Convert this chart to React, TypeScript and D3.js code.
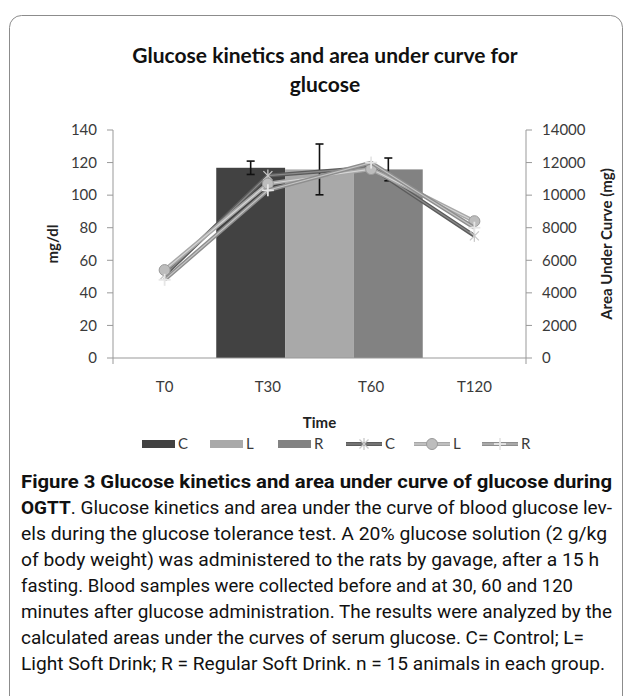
import React from "react";
import * as d3 from "d3";

// chart data
const timePoints = ["T0", "T30", "T60", "T120"];
const groups = ["C", "L", "R"];
const aucValues = [11680, 11580, 11580];
const aucErrors = [410, 1560, 700];
const glucoseC = [51, 112, 117, 75];
const glucoseL = [54, 107, 116, 84];
const glucoseR = [48, 103, 120, 80];
const leftTicks = [0, 20, 40, 60, 80, 100, 120, 140];
const rightTicks = [0, 2000, 4000, 6000, 8000, 10000, 12000, 14000];

const titleLines = ["Glucose kinetics and area under curve for", "glucose"];
const captionLines = [
  "els during the glucose tolerance test. A 20% glucose solution (2 g/kg",
  "of body weight) was administered to the rats by gavage, after a 15 h",
  "fasting. Blood samples were collected before and at 30, 60 and 120",
  "minutes after glucose administration. The results were analyzed by the",
  "calculated areas under the curves of serum glucose. C= Control; L=",
  "Light Soft Drink; R = Regular Soft Drink. n = 15 animals in each group.",
];
const captionWidths = [586, 578, 552, 591, 563, 584];

const barColors = ["#424242", "#a9a9a9", "#828282"];
const lineColors = ["#5c5c5c", "#a8a8a8", "#8e8e8e"];
const lineInner = ["#8a8a8a", "#d6d6d6", "#c4c4c4"];

const W = 628;
const H = 696;
const left = 113;
const right = 526;
const top = 130;
const bottom = 358;
const chartFont = "Lato, 'Open Sans', sans-serif";
const capFont = "'Liberation Sans Narrow', Roboto, sans-serif";

function Marker({ kind, x, y }: { kind: string; x: number; y: number }) {
  if (kind === "C") {
    const s = 6;
    const d = s * 0.75;
    return (
      <g stroke="#c8c8c8" strokeWidth={1.3}>
        <line x1={x} y1={y - s} x2={x} y2={y + s} />
        <line x1={x - d} y1={y - d} x2={x + d} y2={y + d} />
        <line x1={x - d} y1={y + d} x2={x + d} y2={y - d} />
      </g>
    );
  }
  if (kind === "L") {
    return <circle cx={x} cy={y} r={5.5} fill="#bdbdbd" stroke="#9a9a9a" strokeWidth={1} />;
  }
  const s = 6;
  return (
    <g stroke="#e6e6e6" strokeWidth={1.8}>
      <line x1={x} y1={y - s} x2={x} y2={y + s} />
      <line x1={x - s} y1={y} x2={x + s} y2={y} />
    </g>
  );
}

export default function App() {
  const x = d3.scaleBand().domain(timePoints).range([left, right]).padding(0);
  const bw = x.bandwidth();
  const xc = (t: string) => (x(t) as number) + bw / 2;
  // the three AUC bars share the width of the T30 and T60 bands
  const xBar = d3
    .scaleBand()
    .domain(groups)
    .range([x("T30") as number, (x("T60") as number) + bw])
    .padding(0);
  const yL = d3.scaleLinear().domain([0, 140]).range([bottom, top]);
  const yR = d3.scaleLinear().domain([0, 14000]).range([bottom, top]);

  const series = [glucoseC, glucoseL, glucoseR];
  const line = d3
    .line<number>()
    .x((_, i) => xc(timePoints[i]))
    .y((v) => yL(v));

  const legendStart = 142;
  const legendStep = 68;
  const legendY = 444;

  return (
    <svg
      width={W}
      height={H}
      style={{ position: "absolute", left: 0, top: 0, background: "#fff" }}
    >
      <rect x={9.5} y={15.5} width={613} height={700} rx={12} fill="none" stroke="#8c8c8c" />

      {titleLines.map((t, i) => (
        <text
          key={t}
          x={325}
          y={63 + i * 29}
          textAnchor="middle"
          fontFamily={chartFont}
          fontWeight="bold"
          fontSize={21}
          fill="#111"
        >
          {t}
        </text>
      ))}

      {/* bars: area under curve, right axis */}
      {groups.map((g, i) => (
        <rect
          key={g}
          x={xBar(g)}
          y={yR(aucValues[i])}
          width={xBar.bandwidth()}
          height={bottom - yR(aucValues[i])}
          fill={barColors[i]}
        />
      ))}
      {groups.map((g, i) => {
        const cx = (xBar(g) as number) + xBar.bandwidth() / 2;
        const y1 = yR(aucValues[i] + aucErrors[i]);
        const y2 = yR(aucValues[i] - aucErrors[i]);
        return (
          <g key={g} stroke="#111" strokeWidth={1.6}>
            <line x1={cx} y1={y1} x2={cx} y2={y2} />
            <line x1={cx - 4} y1={y1} x2={cx + 4} y2={y1} />
            <line x1={cx - 4} y1={y2} x2={cx + 4} y2={y2} />
          </g>
        );
      })}

      {/* axes */}
      <g stroke="#999" strokeWidth={1} fill="none">
        <line x1={left} y1={top} x2={left} y2={bottom + 6} />
        <line x1={right} y1={top} x2={right} y2={bottom + 6} />
        <line x1={left} y1={bottom} x2={right} y2={bottom} />
        {leftTicks.map((t) => (
          <line key={t} x1={left - 6} y1={yL(t)} x2={left} y2={yL(t)} />
        ))}
        {rightTicks.map((t) => (
          <line key={t} x1={right} y1={yR(t)} x2={right + 6} y2={yR(t)} />
        ))}
      </g>
      {leftTicks.map((t) => (
        <text
          key={t}
          x={97}
          y={yL(t)}
          dy="0.35em"
          textAnchor="end"
          fontFamily={chartFont}
          fontSize={15}
          fill="#3a3a3a"
        >
          {t}
        </text>
      ))}
      {rightTicks.map((t) => (
        <text
          key={t}
          x={542}
          y={yR(t)}
          dy="0.35em"
          fontFamily={chartFont}
          fontSize={15}
          fill="#3a3a3a"
        >
          {t}
        </text>
      ))}
      {timePoints.map((t) => (
        <text
          key={t}
          x={xc(t)}
          y={387}
          dy="0.35em"
          textAnchor="middle"
          fontFamily={chartFont}
          fontSize={15}
          fill="#3a3a3a"
        >
          {t}
        </text>
      ))}
      <text
        transform={`translate(53,${(top + bottom) / 2}) rotate(-90)`}
        textAnchor="middle"
        dy="0.35em"
        fontFamily={chartFont}
        fontWeight="bold"
        fontSize={15}
        fill="#222"
      >
        mg/dl
      </text>
      <text
        transform={`translate(607,${(top + bottom) / 2}) rotate(-90)`}
        textAnchor="middle"
        dy="0.35em"
        fontFamily={chartFont}
        fontWeight="bold"
        fontSize={15}
        fill="#222"
      >
        Area Under Curve (mg)
      </text>
      <text
        x={(left + right) / 2}
        y={423}
        dy="0.35em"
        textAnchor="middle"
        fontFamily={chartFont}
        fontWeight="bold"
        fontSize={15}
        fill="#222"
      >
        Time
      </text>

      {/* lines: glucose kinetics, left axis */}
      {series.map((s, k) => (
        <g key={k}>
          <path d={line(s) as string} fill="none" stroke={lineColors[k]} strokeWidth={4} />
          <path d={line(s) as string} fill="none" stroke={lineInner[k]} strokeWidth={1.2} />
          {s.map((v, i) => (
            <Marker key={i} kind={groups[k]} x={xc(timePoints[i])} y={yL(v)} />
          ))}
        </g>
      ))}

      {/* legend */}
      {groups.map((g, i) => {
        const lx = legendStart + i * legendStep;
        return (
          <g key={"b" + g}>
            <rect x={lx} y={legendY - 4} width={33} height={8} fill={barColors[i]} />
            <text x={lx + 36} y={legendY} dy="0.35em" fontFamily={chartFont} fontSize={15} fill="#3a3a3a">
              {g}
            </text>
          </g>
        );
      })}
      {groups.map((g, i) => {
        const lx = legendStart + (i + 3) * legendStep;
        return (
          <g key={"l" + g}>
            <line x1={lx} y1={legendY} x2={lx + 36} y2={legendY} stroke={lineColors[i]} strokeWidth={4} />
            <line x1={lx} y1={legendY} x2={lx + 36} y2={legendY} stroke={lineInner[i]} strokeWidth={1.2} />
            <Marker kind={g} x={lx + 18} y={legendY} />
            <text x={lx + 39} y={legendY} dy="0.35em" fontFamily={chartFont} fontSize={15} fill="#3a3a3a">
              {g}
            </text>
          </g>
        );
      })}

      {/* caption */}
      <text x={21} y={488} fontFamily={capFont} fontSize={19} fontWeight="bold" fill="#111" textLength={591} lengthAdjust="spacingAndGlyphs">
        Figure 3 Glucose kinetics and area under curve of glucose during
      </text>
      <text x={21} y={514} fontFamily={capFont} fontSize={19} fill="#111" textLength={591} lengthAdjust="spacingAndGlyphs">
        <tspan fontWeight="bold">OGTT</tspan>. Glucose kinetics and area under the curve of blood glucose lev-
      </text>
      {captionLines.map((t, i) => (
        <text
          key={i}
          x={21}
          y={540 + i * 26}
          fontFamily={capFont}
          fontSize={19}
          fill="#111"
          textLength={captionWidths[i]}
          lengthAdjust="spacingAndGlyphs"
        >
          {t}
        </text>
      ))}
    </svg>
  );
}
